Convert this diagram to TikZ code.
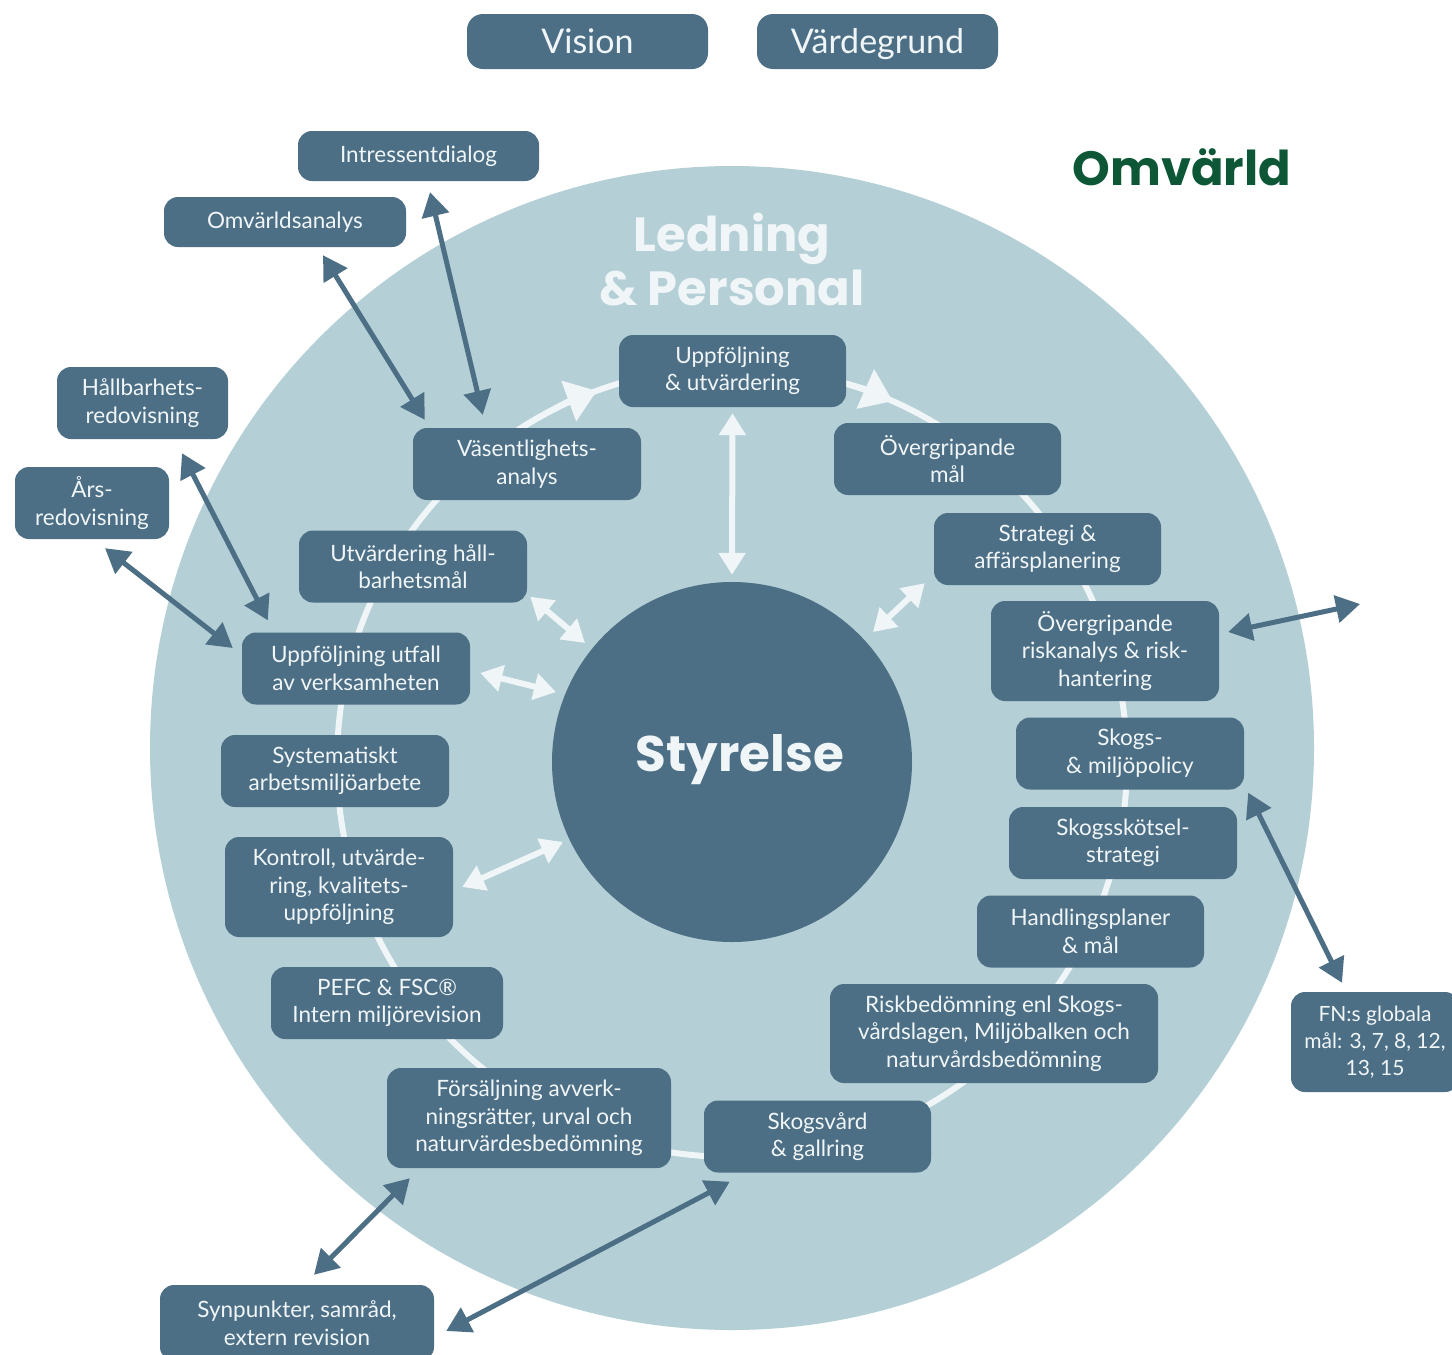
\documentclass[tikz,border=0pt]{standalone}
\usepackage{fontspec}
\setmainfont{Lato}
\newfontfamily\headfont{Poppins}
\usetikzlibrary{arrows.meta, calc}
\definecolor{slate}{RGB}{76,111,133}
\definecolor{mist}{RGB}{180,207,214}
\definecolor{forest}{RGB}{13,87,55}
\definecolor{snow}{RGB}{240,245,247}

\begin{document}
\begin{tikzpicture}[
    x=1pt, y=-1pt,
    every node/.style={font=\fontsize{22.5}{27.5}\selectfont, text=snow},
    card/.style={rectangle, fill=slate, rounded corners=14pt, minimum width=228pt, minimum height=72pt, align=center, inner sep=0pt},
    pill/.style={card, minimum width=241pt, minimum height=55pt, rounded corners=16pt, text height=24pt, text depth=0pt, font=\fontsize{34}{40}\selectfont},
    title/.style={font=\headfont\bfseries\fontsize{48}{54}\selectfont, align=center},
    darrow/.style={{Triangle[length=24pt,width=27pt]}-{Triangle[length=24pt,width=27pt]}, line width=5pt, slate},
    warrow/.style={{Triangle[length=22pt,width=26pt]}-{Triangle[length=22pt,width=26pt]}, line width=6pt, snow},
    ring/.style={line width=6pt, snow}
]
    \clip (0,0) rectangle (1452,1355);
    \fill[white] (0,0) rectangle (1452,1355);

    % Omvärld
    \node (omv) [circle, fill=mist, minimum size=1164pt, inner sep=0pt] at (732,748) {};
    \node (omvtext) [title, text=forest] at (1182,167) {Omvärld};
    \node (ledning) [title] at (732,260) {Ledning\\\& Personal};

    % Ring
    \coordinate (ringc) at (732,762);
    \draw[ring] (ringc) circle[radius=395pt];
    \draw[ring, -{Triangle[length=30pt,width=42pt]}] (ringc) ++(-122:395) arc[start angle=122, end angle=110, radius=395pt];
    \draw[ring, -{Triangle[length=30pt,width=42pt]}] (ringc) ++(-78:395) arc[start angle=78, end angle=66, radius=395pt];

    % Nodes
    \node (vision) [pill] at (587.5,41.5) {Vision};
    \node (varde) [pill] at (877.5,41.5) {Värdegrund};

    \node (intr) [card, minimum width=241pt, minimum height=50pt] at (418.5,156) {Intressentdialog};
    \node (omva) [card, minimum width=242pt, minimum height=50pt] at (285,222) {Omvärldsanalys};
    \node (hall) [card, minimum width=171pt] at (142.5,403) {Hållbarhets-\\redovisning};
    \node (ars) [card, minimum width=154pt] at (92,503) {Års-\\redovisning};

    \node (uppf) [card, minimum width=227pt] at (732.5,371) {Uppföljning\\\& utvärdering};
    \node (vas) [card] at (527,464) {Väsentlighets-\\analys};
    \node (ovmal) [card, minimum width=227pt] at (947.5,459) {Övergripande\\mål};
    \node (strat) [card, minimum width=227pt] at (1047.5,549) {Strategi \&\\affärsplanering};
    \node (utvh) [card] at (413,566.5) {Utvärdering håll-\\barhetsmål};
    \node (risk) [card, minimum height=100pt] at (1105,651) {Övergripande\\riskanalys \& risk-\\hantering};
    \node (utfall) [card] at (356,668.5) {Uppföljning utfall\\av verksamheten};
    \node (policy) [card] at (1130,753.5) {Skogs-\\\& miljöpolicy};
    \node (syst) [card] at (335,771) {Systematiskt\\arbetsmiljöarbete};
    \node (skots) [card] at (1123,843) {Skogsskötsel-\\strategi};
    \node (kontr) [card, minimum height=100pt] at (339,887) {Kontroll, utvärde-\\ring, kvalitets-\\uppföljning};
    \node (handl) [card, minimum width=227pt] at (1090.5,931.5) {Handlingsplaner\\\& mål};
    \node (pefc) [card, minimum width=232pt] at (387,1003) {PEFC \& FSC®\\Intern miljörevision};
    \node (riskb) [card, minimum width=328pt, minimum height=99pt] at (994,1033.5) {Riskbedömning enl Skogs-\\vårdslagen, Miljöbalken och\\naturvårdsbedömning};
    \node (fors) [card, minimum width=284pt, minimum height=100pt] at (529,1118) {Försäljning avverk-\\ningsrätter, urval och\\naturvärdesbedömning};
    \node (skogsv) [card, minimum width=227pt] at (817.5,1136.5) {Skogsvård\\\& gallring};

    \node (fn) [card, minimum width=168pt, minimum height=100pt, font=\fontsize{21}{27}\selectfont] at (1375,1042) {FN:s globala\\mål: 3, 7, 8, 12,\\13, 15};
    \node (synp) [card, minimum width=274pt, minimum height=76pt] at (297,1323) {Synpunkter, samråd,\\extern revision};
    \coordinate (utanfor) at (1360,604);

    \node (styr) [circle, fill=slate, minimum size=360pt, inner sep=0pt] at (732,762) {};
    \node (styrtext) [title, font=\headfont\bfseries\fontsize{50}{56}\selectfont] at (740,760) {Styrelse};

    % Connections
    \draw [darrow] ($(intr.south)+(11.5,11)$) -- ($(vas.north west)+(70,-13)$);
    \draw [darrow] ($(omva.south)+(38,8)$) -- ($(vas.north west)+(12,-8)$);
    \draw [darrow] ($(hall.south)+(39.5,14)$) -- ($(utfall.north west)+(26,-12)$);
    \draw [darrow] ($(ars.south)+(13,9)$) -- ($(utfall.west)+(-9,-20.5)$);
    \draw [darrow] ($(risk.east)+(9,-19)$) -- (utanfor);
    \draw [darrow] ($(policy.south east)+(4,3)$) -- ($(fn.north)+(-33,-9)$);
    \draw [darrow] ($(fors.south west)+(23,10)$) -- ($(synp.north)+(17,-10)$);
    \draw [darrow] ($(skogsv.south west)+(26,9)$) -- ($(synp.east)+(12,8)$);

    \draw [warrow] ($(uppf.south)+(0,6)$) -- ($(styr.north)+(0,-7)$);
    \draw [warrow] ($(strat.south west)+(-9,-2)$) -- ($(styr)+(141,-130)$);
    \draw [warrow] ($(utvh.south east)+(3,-6)$) -- ($(styr)+(-147,-119)$);
    \draw [warrow] ($(utfall.east)+(10,4.5)$) -- ($(styr)+(-176,-70)$);
    \draw [warrow] ($(kontr.east)+(9,0)$) -- ($(styr)+(-169,80)$);
\end{tikzpicture}
\end{document}
